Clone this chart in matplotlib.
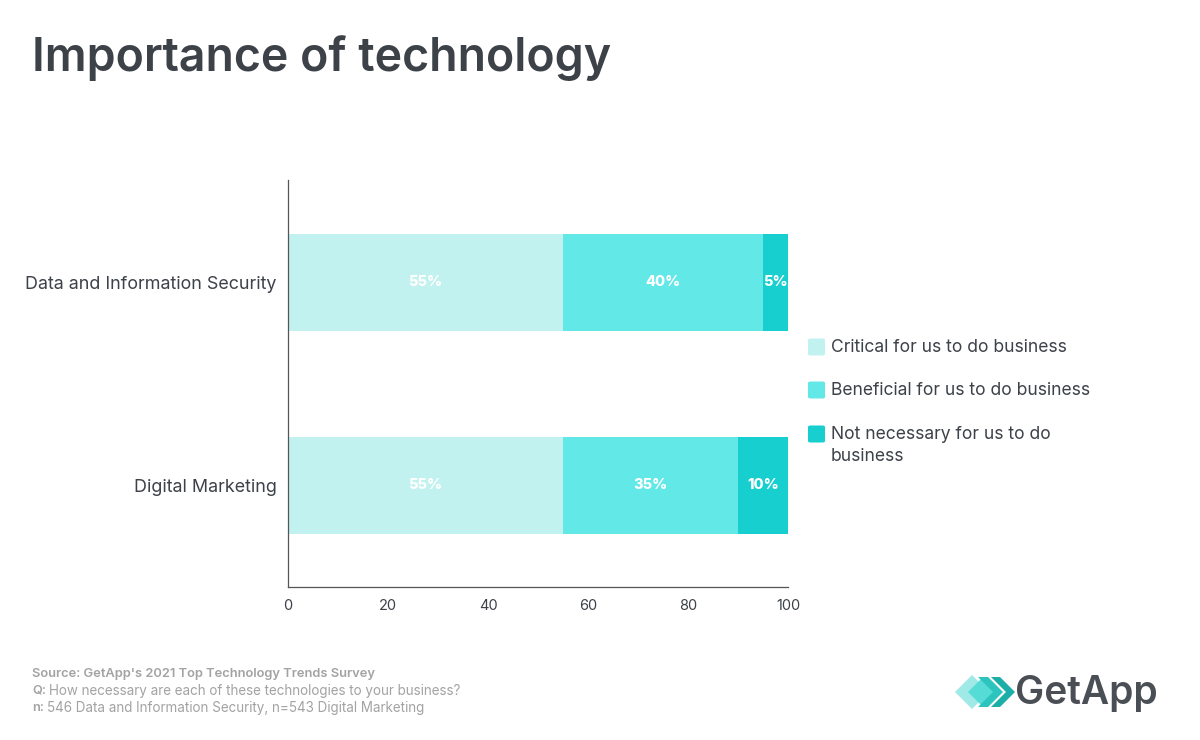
import numpy as np
import matplotlib.pyplot as plt
from matplotlib.patches import Polygon, FancyBboxPatch

categories = ["Data and Information Security", "Digital Marketing"]
series_names = ["Critical for us to do business",
                "Beneficial for us to do business",
                "Not necessary for us to do\nbusiness"]
critical = [55, 55]
beneficial = [40, 35]
not_necessary = [5, 10]
colors = ["#C2F2F0", "#63E8E8", "#17CFCF"]
x_ticks = [0, 20, 40, 60, 80, 100]

plt.rcParams['font.family'] = ['Inter', 'DejaVu Sans']

fig = plt.figure(figsize=(12, 7.4), dpi=100)
ax = fig.add_axes([0.24, 0.2068, 0.4167, 0.55])

y = np.arange(len(categories))
left = np.zeros(len(categories))
for vals, name, col in zip([critical, beneficial, not_necessary], series_names, colors):
    bars = ax.barh(y, vals, left=left, height=0.48, color=col, label=name)
    for b, v in zip(bars, vals):
        ax.text(b.get_x() + b.get_width() / 2, b.get_y() + b.get_height() / 2,
                f"{v}%", ha='center', va='center', color='white',
                fontsize=10.5, fontweight='heavy')
    left += np.array(vals)

ax.set_ylim(1.5, -0.505)
ax.set_xlim(0, 100)
ax.set_yticks(y)
ax.set_yticklabels(categories, fontsize=12.9, color='#3D4148')
ax.set_xticks(x_ticks)
ax.set_xticklabels([str(t) for t in x_ticks], fontsize=10.5, color='#3D4148')
ax.tick_params(axis='y', length=0, pad=8)
ax.tick_params(axis='x', length=0, pad=9)
for s in ['top', 'right']:
    ax.spines[s].set_visible(False)
for s in ['left', 'bottom']:
    ax.spines[s].set_color('#555555')
    ax.spines[s].set_linewidth(0.9)


def fx(px):
    return px / 1200


def fy(py):
    return 1 - py / 740


# legend drawn by hand so the square sits on the first line of a wrapped label
leg_rows = [347, 390, 434]
for name, col, row in zip(series_names, colors, leg_rows):
    fig.patches.append(FancyBboxPatch((fx(808), fy(row + 8.5)), fx(17), 17 / 740,
                                      boxstyle="round,pad=0,rounding_size=0.002",
                                      transform=fig.transFigure, facecolor=col,
                                      edgecolor='none'))
    fig.text(fx(831), fy(row - 8), name, fontsize=12.6, color='#3D4148', va='top',
             linespacing=1.35, transform=fig.transFigure)

fig.text(0.027, 0.922, "Importance of technology", fontsize=33.5, fontweight='semibold',
         color='#3D4148', va='center')

gray = '#A3A3A3'
fig.text(fx(32), fy(674), "Source: GetApp's 2021 Top Technology Trends Survey",
         fontsize=9.3, color=gray, fontweight='semibold', va='center')
fig.text(fx(32), fy(691), "Q:", fontsize=9.2, color=gray, fontweight='semibold', va='center')
fig.text(fx(49), fy(691), "How necessary are each of these technologies to your business?",
         fontsize=9.7, color=gray, va='center')
fig.text(fx(32), fy(708), "n:", fontsize=9.2, color=gray, fontweight='semibold', va='center')
fig.text(fx(47), fy(708), "546 Data and Information Security, n=543 Digital Marketing",
         fontsize=9.7, color=gray, va='center')

# logo
shapes = [
    ([(955, 692), (972, 675), (989, 692), (972, 709)], '#9FEAE6'),
    ([(968, 692), (983, 677), (998, 692), (983, 707)], '#55DCD6'),
    ([(978, 677), (988, 677), (1003, 692), (988, 707), (978, 707), (993, 692)], '#2EC4BE'),
    ([(991, 677), (1000, 677), (1015, 692), (1000, 707), (991, 707), (1006, 692)], '#1BAFA8'),
]
for pts, c in shapes:
    fig.patches.append(Polygon([(fx(a), fy(b)) for a, b in pts], closed=True,
                               transform=fig.transFigure, facecolor=c, edgecolor='none'))
fig.text(fx(1015), fy(693), "GetApp", fontsize=28, fontweight='semibold',
         color='#4A4E55', va='center')

fig.savefig("out.png", dpi=100, facecolor='white')
